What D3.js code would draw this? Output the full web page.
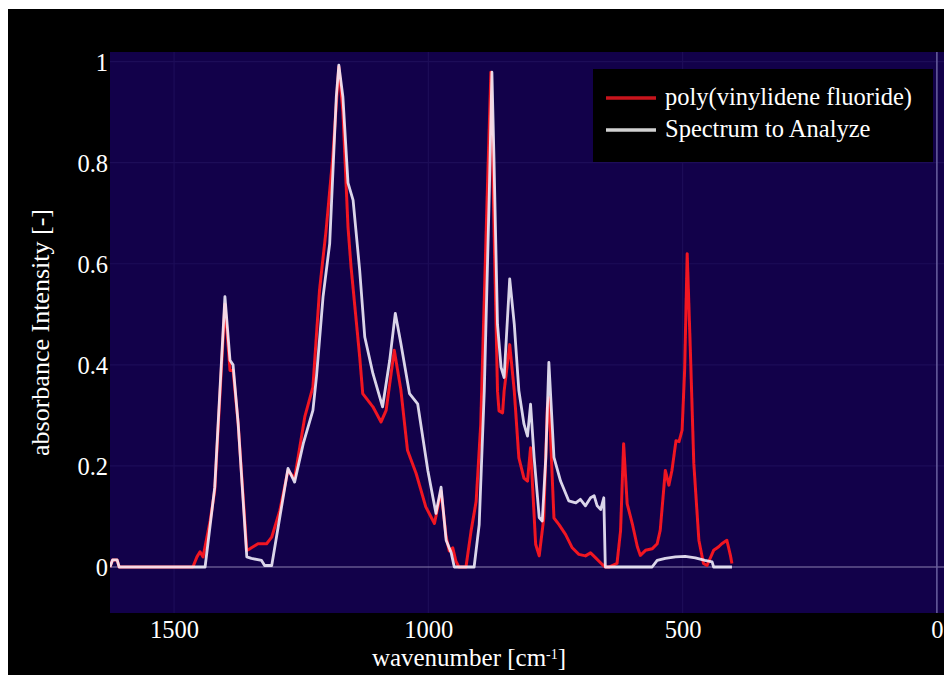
<html>
<head>
<style>
  body { margin: 0; background: #000; }
  text { font-family: "Liberation Serif", "Times New Roman", serif; fill: #fff; }
</style>
</head>
<body>
<div id="chart-area"></div>
<script src="https://d3js.org/d3.v7.min.js"></script>
<script>

const PVDF_WN = [1626,1621,1612,1608,1463,1455,1449,1443,1429,1420,
  1400,1390,1384,1374,1357,1351,1335,1318,1308,1292,
  1276,1263,1243,1227,1214,1201,1188,1176,1168,1158,
  1152,1135,1129,1109,1093,1083,1067,1054,1041,1024,
  1005,988,975,965,959,952,946,940,926,916,
  906,897,884,877,871,864,861,854,851,840,
  831,822,812,805,799,789,782,773,766,763,
  753,743,730,717,704,691,681,671,658,652,
  645,629,622,616,609,599,589,583,573,560,
  550,544,534,527,521,513,507,501,496,491,
  485,478,468,459,452,439,429,423,413,406,403]
const PVDF_ABS = [0,0.014,0.014,0,0,0.02,0.03,0.02,0.092,0.152,
  0.52,0.389,0.389,0.284,0.033,0.036,0.046,0.046,0.059,0.112,
  0.191,0.175,0.297,0.356,0.548,0.667,0.81,0.99,0.9,0.673,
  0.594,0.416,0.343,0.317,0.287,0.31,0.429,0.35,0.231,0.185,
  0.119,0.086,0.15,0.06,0.032,0.038,0.012,0,0,0.071,
  0.13,0.282,0.744,0.979,0.678,0.348,0.309,0.305,0.348,0.44,
  0.348,0.216,0.176,0.17,0.236,0.045,0.022,0.097,0.315,0.335,
  0.097,0.084,0.064,0.038,0.025,0.022,0.028,0.018,0.005,0,
  0,0.007,0.072,0.244,0.125,0.086,0.04,0.023,0.033,0.036,
  0.046,0.073,0.191,0.162,0.191,0.25,0.248,0.271,0.39,0.62,
  0.436,0.205,0.053,0.007,0.003,0.033,0.04,0.046,0.053,0.023,0.007]

const SAMPLE_WN = [1626,1621,1612,1608,1439,1420,1400,1390,1384,1374,
  1357,1348,1328,1322,1308,1292,1276,1263,1246,1227,
  1220,1207,1194,1181,1176,1168,1158,1148,1135,1125,
  1109,1090,1076,1065,1054,1037,1021,1001,985,975,
  965,955,949,910,900,890,880,875,871,864,
  857,851,840,831,822,812,805,799,792,782,
  776,769,763,753,740,724,710,701,691,681,
  674,668,661,655,652,560,550,534,514,495,
  475,456,442,439,403]
const SAMPLE_ABS = [0,0.014,0.014,0,0,0.158,0.535,0.409,0.4,0.284,
  0.02,0.017,0.013,0.003,0.003,0.099,0.195,0.168,0.244,0.31,
  0.376,0.535,0.64,0.93,0.993,0.93,0.76,0.726,0.587,0.455,
  0.383,0.317,0.409,0.502,0.442,0.343,0.323,0.191,0.106,0.158,
  0.053,0.028,0,0,0.084,0.349,0.745,0.979,0.81,0.48,
  0.395,0.375,0.57,0.48,0.349,0.283,0.259,0.322,0.217,0.098,
  0.091,0.217,0.405,0.217,0.17,0.131,0.127,0.134,0.121,0.137,
  0.141,0.121,0.114,0.137,0,0,0.013,0.017,0.02,0.021,
  0.018,0.013,0.01,0,0]

const X_TICKS = [1500, 1000, 500, 0]
const Y_TICKS = [0, 0.2, 0.4, 0.6, 0.8, 1]
const SERIES_NAMES = ["poly(vinylidene fluoride)", "Spectrum to Analyze"]

const W = 944, H = 675
const PLOT = { LEFT: 110, RIGHT: 944, TOP: 52, BOTTOM: 613 }

const svg = d3.select("#chart-area")
  .append("svg")
    .attr("width", W)
    .attr("height", H)

svg.append("rect").attr("width", W).attr("height", H).attr("fill", "#000")
// white strips along top and left edge of the scan
svg.append("rect").attr("width", W).attr("height", 9).attr("fill", "#fff")
svg.append("rect").attr("width", 8).attr("height", H).attr("fill", "#fff")

const x = d3.scaleLinear().domain([1626, -14]).range([PLOT.LEFT, PLOT.RIGHT])
const y = d3.scaleLinear().domain([-0.091, 1.019]).range([PLOT.BOTTOM, PLOT.TOP])

// y tick labels (drawn before plot so the panel overlaps them a little)
const yAxis = d3.axisLeft(y)
  .tickValues(Y_TICKS)
  .tickFormat(d => String(+d.toFixed(1)))
  .tickSize(0)
  .tickPadding(0)
svg.append("g")
  .attr("transform", `translate(${PLOT.LEFT - 2}, 0)`)
  .call(yAxis)
  .call(g => g.select(".domain").remove())
  .selectAll("text")
    .attr("font-size", "24.5px")
    .attr("fill", "#fff")
    .attr("dy", "0.35em")

// plot panel
svg.append("rect")
  .attr("x", PLOT.LEFT).attr("y", PLOT.TOP)
  .attr("width", PLOT.RIGHT - PLOT.LEFT)
  .attr("height", PLOT.BOTTOM - PLOT.TOP)
  .attr("fill", "#12014a")

// faint grid
svg.append("g")
  .selectAll("line")
  .data(X_TICKS.filter(d => d !== 0)).enter()
  .append("line")
    .attr("x1", d => x(d)).attr("x2", d => x(d))
    .attr("y1", PLOT.TOP).attr("y2", PLOT.BOTTOM)
    .attr("stroke", "#1d0d58").attr("stroke-width", 1.2)
svg.append("g")
  .selectAll("line")
  .data(Y_TICKS.filter(d => d !== 0)).enter()
  .append("line")
    .attr("x1", PLOT.LEFT).attr("x2", PLOT.RIGHT)
    .attr("y1", d => y(d)).attr("y2", d => y(d))
    .attr("stroke", "#1d0d58").attr("stroke-width", 1.2)

// zero lines
svg.append("line")
  .attr("x1", PLOT.LEFT).attr("x2", PLOT.RIGHT)
  .attr("y1", y(0)).attr("y2", y(0))
  .attr("stroke", "#8a80b0").attr("stroke-width", 1.2)
svg.append("line")
  .attr("x1", x(0)).attr("x2", x(0))
  .attr("y1", PLOT.TOP).attr("y2", PLOT.BOTTOM)
  .attr("stroke", "#6a60a0").attr("stroke-width", 1.5)

// x tick labels
const xAxis = d3.axisBottom(x)
  .tickValues(X_TICKS)
  .tickFormat(d3.format("d"))
  .tickSize(0)
  .tickPadding(8)
svg.append("g")
  .attr("transform", `translate(0, ${PLOT.BOTTOM})`)
  .call(xAxis)
  .call(g => g.select(".domain").remove())
  .selectAll("text")
    .attr("font-size", "24.5px")
    .attr("fill", "#fff")

// clip + glow
const defs = svg.append("defs")
defs.append("clipPath").attr("id", "clip")
  .append("rect")
    .attr("x", PLOT.LEFT).attr("y", PLOT.TOP)
    .attr("width", PLOT.RIGHT - PLOT.LEFT)
    .attr("height", PLOT.BOTTOM - PLOT.TOP)
defs.append("filter").attr("id", "soft")
  .append("feGaussianBlur").attr("stdDeviation", 0.6)

const line = d3.line()
  .x(d => x(d[0]))
  .y(d => y(d[1]))

const pvdf = PVDF_WN.map((w, i) => [w, PVDF_ABS[i]])
const sample = SAMPLE_WN.map((w, i) => [w, SAMPLE_ABS[i]])

const lines = svg.append("g").attr("clip-path", "url(#clip)")
lines.append("path")
  .datum(pvdf)
  .attr("d", line)
  .attr("fill", "none")
  .attr("stroke", "#f01420")
  .attr("stroke-width", 3)
  .attr("stroke-linejoin", "round")
  .attr("filter", "url(#soft)")
lines.append("path")
  .datum(sample)
  .attr("d", line)
  .attr("fill", "none")
  .attr("stroke", "#f6f2ff")
  .attr("stroke-opacity", 0.88)
  .attr("stroke-width", 2.8)
  .attr("stroke-linejoin", "round")
  .attr("filter", "url(#soft)")

// legend
const legend = svg.append("g").attr("transform", "translate(593, 69)")
legend.append("rect")
  .attr("width", 340).attr("height", 93)
  .attr("fill", "#000")
const legendColors = ["#c8141c", "#d2d2d2"]
SERIES_NAMES.forEach((name, i) => {
  const row = legend.append("g").attr("transform", `translate(0, ${29 + i * 32})`)
  row.append("line")
    .attr("x1", 13).attr("x2", 63)
    .attr("stroke", legendColors[i])
    .attr("stroke-width", 3.5)
  row.append("text")
    .attr("x", 72)
    .attr("y", 7)
    .attr("font-size", "24.5px")
    .text(name)
})

// axis titles
svg.append("text")
  .attr("transform", `translate(49, ${(PLOT.TOP + PLOT.BOTTOM) / 2}) rotate(-90)`)
  .attr("text-anchor", "middle")
  .attr("font-size", "26px")
  .text("absorbance Intensity [-]")

const xt = svg.append("text")
  .attr("x", 469)
  .attr("y", 666)
  .attr("text-anchor", "middle")
  .attr("font-size", "25px")
xt.append("tspan").text("wavenumber [cm")
xt.append("tspan").attr("baseline-shift", "super").attr("font-size", "14px").text("-1")
xt.append("tspan").text("]")

</script>
</body>
</html>
